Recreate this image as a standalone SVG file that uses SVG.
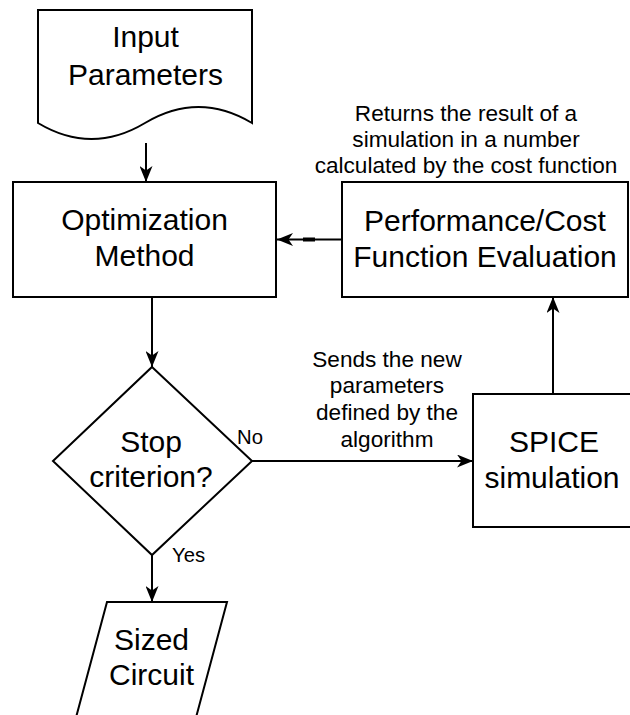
<svg xmlns="http://www.w3.org/2000/svg" width="630" height="715" viewBox="0 0 630 715">
<style>
.shape{fill:#ffffff;stroke:#000000;stroke-width:2}
.edge{fill:none;stroke:#000000;stroke-width:2}
.main{font-family:"Liberation Sans",Arial,Helvetica,sans-serif;font-size:30px;fill:#000000;text-anchor:middle}
.lbl{font-family:"Liberation Sans",Arial,Helvetica,sans-serif;font-size:22.6px;fill:#000000;text-anchor:middle}
.sm{font-family:"Liberation Sans",Arial,Helvetica,sans-serif;font-size:20.3px;fill:#000000}
</style>
<defs>
<marker id="arrow" markerUnits="userSpaceOnUse" viewBox="0 0 16 13" markerWidth="16" markerHeight="13" refX="16" refY="6.5" orient="auto">
<path d="M0,0 L16,6.5 L0,13 L4.5,6.5 Z" fill="#000000"/>
</marker>
</defs>
<rect width="630" height="715" fill="#ffffff"/>
<g id="connectors">
<line class="edge" x1="146" y1="143" x2="146" y2="182" marker-end="url(#arrow)"/>
<line class="edge" x1="342" y1="239.5" x2="277" y2="239.5" marker-end="url(#arrow)"/>
<rect x="303" y="237.5" width="12" height="4" fill="#000000"/>
<line class="edge" x1="152" y1="297" x2="152" y2="367" marker-end="url(#arrow)"/>
<line class="edge" x1="252" y1="461" x2="473" y2="461" marker-end="url(#arrow)"/>
<line class="edge" x1="553" y1="394" x2="553" y2="297" marker-end="url(#arrow)"/>
<line class="edge" x1="152" y1="555" x2="152" y2="602" marker-end="url(#arrow)"/>
<text class="sm" x="237" y="444">No</text>
<text class="sm" x="172" y="562">Yes</text>
<text class="lbl" x="466" y="121">Returns the result of a</text>
<text class="lbl" x="466" y="147">simulation in a number</text>
<text class="lbl" x="466" y="173">calculated by the cost function</text>
<text class="lbl" x="387" y="367">Sends the new</text>
<text class="lbl" x="387" y="393">parameters</text>
<text class="lbl" x="387" y="420">defined by the</text>
<text class="lbl" x="387" y="447">algorithm</text>
</g>
<g id="input-parameters">
<path class="shape" d="M38,10 L252,10 L252,123 Q198.5,91 145,123 Q91.5,155 38,123 Z"/>
<text class="main" x="145.5" y="47">Input</text>
<text class="main" x="145.5" y="85">Parameters</text>
</g>
<g id="optimization-method">
<rect class="shape" x="13" y="182" width="263" height="115"/>
<text class="main" x="144.5" y="230">Optimization</text>
<text class="main" x="144.5" y="266">Method</text>
</g>
<g id="performance-evaluation">
<rect class="shape" x="342" y="182" width="286" height="115"/>
<text class="main" x="485" y="231">Performance/Cost</text>
<text class="main" x="485" y="267">Function Evaluation</text>
</g>
<g id="stop-criterion">
<path class="shape" d="M152,367 L252,461 L152,555 L53,461 Z"/>
<text class="main" x="151" y="452">Stop</text>
<text class="main" x="151" y="487">criterion?</text>
</g>
<g id="spice-simulation">
<rect class="shape" x="473" y="394" width="162" height="133"/>
<text class="main" x="554" y="452">SPICE</text>
<text class="main" x="552" y="488">simulation</text>
</g>
<g id="sized-circuit">
<path class="shape" d="M107,602 L227,602 L194,725 L74,725 Z"/>
<text class="main" x="151.5" y="650">Sized</text>
<text class="main" x="151.5" y="685">Circuit</text>
</g>
</svg>
